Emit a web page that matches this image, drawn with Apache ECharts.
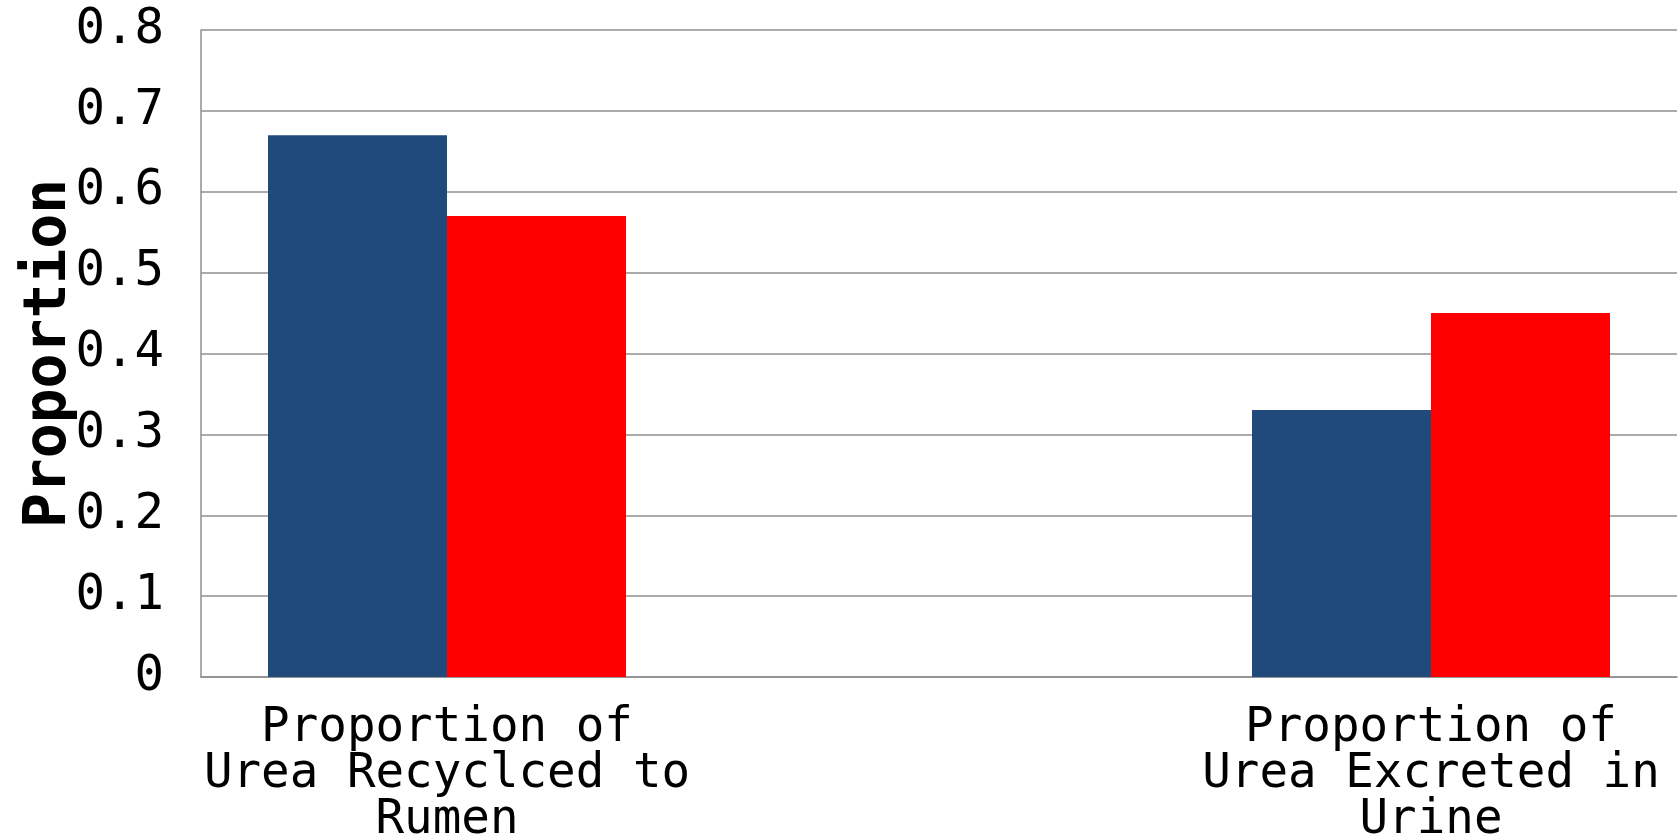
<!DOCTYPE html>
<html>
<head>
<meta charset="utf-8">
<script src="https://cdn.jsdelivr.net/npm/echarts@6/dist/echarts.min.js"></script>
<style>
  html, body { margin: 0; padding: 0; background: #fff; }
  #chart { width: 1678px; height: 839px; }
</style>
</head>
<body>
<div id="chart"></div>
<script>
// categories (the middle one is an empty spacer slot)
const categories = [
  "Proportion of\nUrea Recyclced to\nRumen",
  "",
  "Proportion of\nUrea Excreted in\nUrine",
];
const blueValues = [0.67, null, 0.33];
const redValues = [0.57, null, 0.45];
const yTicks = ["0", "0.1", "0.2", "0.3", "0.4", "0.5", "0.6", "0.7", "0.8"];

const mono = "'DejaVu Sans Mono', monospace";
const gridColor = "#8f8f8f";

const chart = echarts.init(document.getElementById("chart"));
chart.setOption({
  animation: false,
  backgroundColor: "#ffffff",
  grid: { left: 201, right: 1, top: 30, bottom: 162, outerBoundsMode: "none", containLabel: false },
  xAxis: {
    type: "category",
    data: categories,
    axisTick: { show: false },
    axisLine: { lineStyle: { color: gridColor, width: 1.5 } },
    axisLabel: {
      interval: 0,
      color: "#000",
      fontFamily: mono,
      fontSize: 47.5,
      lineHeight: 46,
      margin: 29,
      align: "center",
    },
  },
  yAxis: {
    type: "value",
    min: 0,
    max: 0.8,
    interval: 0.1,
    name: "Proportion",
    nameLocation: "middle",
    nameGap: 122,
    nameMoveOverlap: false,
    nameTextStyle: {
      color: "#000",
      fontFamily: mono,
      fontWeight: "bold",
      fontSize: 58,
    },
    axisLine: { show: true, lineStyle: { color: gridColor, width: 1.5 } },
    axisTick: { show: false },
    splitLine: { lineStyle: { color: gridColor, width: 1.5 } },
    axisLabel: {
      color: "#000",
      fontFamily: mono,
      fontSize: 49,
      margin: 37,
      formatter: (v) => yTicks[Math.round(v * 10)],
    },
  },
  series: [
    {
      type: "bar",
      data: blueValues,
      barWidth: 179,
      barGap: "0%",
      itemStyle: { color: "#214a7c" },
    },
    {
      type: "bar",
      data: redValues,
      barWidth: 179,
      barGap: "0%",
      itemStyle: { color: "#ff0000" },
    },
  ],
});
</script>
</body>
</html>
